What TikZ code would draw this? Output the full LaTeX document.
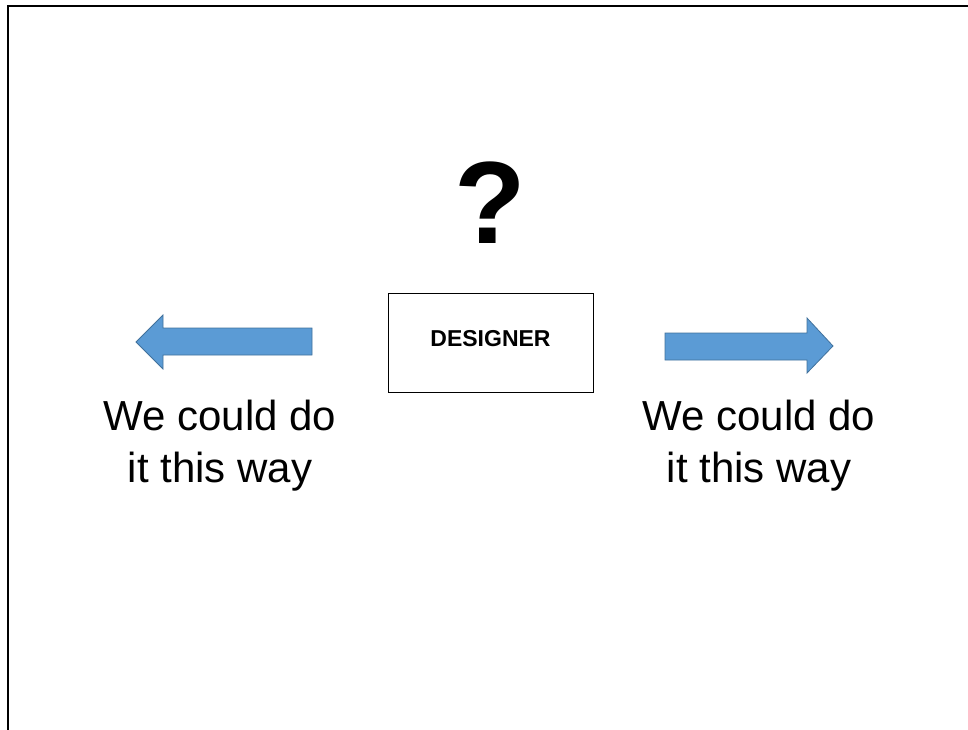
\documentclass[tikz,border=0pt]{standalone}
\usepackage{fontspec}
\setmainfont{Liberation Sans}
\definecolor{arrowfill}{HTML}{5B9BD5}
\definecolor{arrowline}{HTML}{41719C}
\tikzset{
  box/.style={draw,line width=0.8pt,minimum width=205pt,minimum height=99pt,inner sep=0pt,text height=16pt,text depth=9pt,font=\fontsize{23}{28}\selectfont\bfseries},
  choice/.style={align=center,inner sep=0pt,font=\fontsize{42}{52}\selectfont},
  bigarrow/.style={fill=arrowfill,draw=arrowline,line width=0.8pt,line join=miter}
}
\begin{document}
\begin{tikzpicture}[x=1pt,y=-1pt]
        \useasboundingbox (0,0) rectangle (968,729);
        % slide edge
        \draw[line width=2pt] (8,740) -- (8,6) -- (980,6);
        \draw (490.5,342.5) node[box](d){DESIGNER};
        \draw (490,243) node[anchor=base,inner sep=0pt,font=\fontsize{117}{120}\selectfont\bfseries](q){?};
        % base anchor sits on the last line
        \draw (220,482) node[choice,anchor=base](l){We could do\\it this way};
        \draw (759,482) node[choice,anchor=base](r){We could do\\it this way};
        % the two ways
        \draw[bigarrow] (312,328) -- (163,328) -- (163,315) -- (136,342) -- (163,369) -- (163,355) -- (312,355) -- cycle;
        \draw[bigarrow] (665,333) -- (807,333) -- (807,318) -- (833,346) -- (807,373) -- (807,360) -- (665,360) -- cycle;
      \end{tikzpicture}
\end{document}
